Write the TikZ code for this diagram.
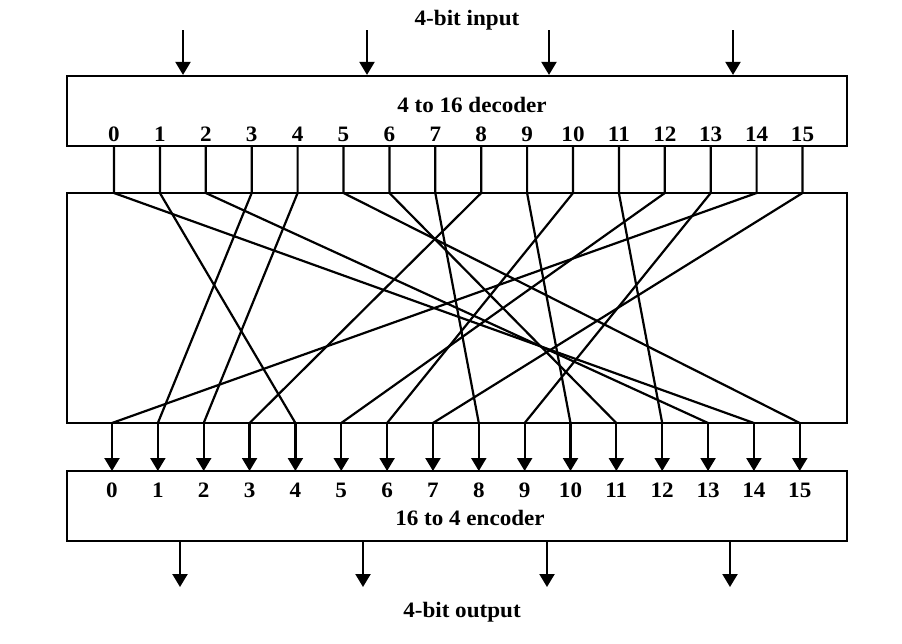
\documentclass[tikz,border=0pt]{standalone}
\usepackage{fontspec}
\setmainfont{Liberation Serif}[FakeStretch=1.05]
\usetikzlibrary{arrows.meta}
\begin{document}
\begin{tikzpicture}[x=1pt,y=-1pt,
  box/.style={draw, line width=2.2pt, inner sep=0pt},
  wire/.style={line width=2.2pt, line join=round},
  arr/.style={line width=2.2pt, -{Triangle[width=15pt,length=13pt]}},
  lbl/.style={font=\fontsize{22}{25}\selectfont\bfseries, inner sep=0pt, anchor=base},
  ]
\useasboundingbox (0,0) rectangle (902,643);
% boxes
\node[box, minimum width=780pt, minimum height=70pt] (dec) at (457,111) {};
\node[box, minimum width=780pt, minimum height=230pt] (mid) at (457,308) {};
\node[box, minimum width=780pt, minimum height=70pt] (enc) at (457,506) {};
% labels
\node[lbl] (inlbl) at (467,25) {4-bit input};
\node[lbl] (dectitle) at (472,112) {4 to 16 decoder};
\node[lbl] (enctitle) at (470,525) {16 to 4 encoder};
\node[lbl] (outlbl) at (462,617) {4-bit output};
% coordinates for wires
\foreach \i in {0,...,15}{
  \pgfmathsetmacro{\xt}{114+45.9*\i}
  \pgfmathsetmacro{\xb}{112+45.85*\i}
  \coordinate (d\i) at (\xt,146);
  \coordinate (t\i) at (\xt,193);
  \coordinate (b\i) at (\xb,423);
  \coordinate (e\i) at (\xb,471);
  \node[lbl] (dn\i) at (\xt,141.5) {\i};
  \node[lbl] (en\i) at (\xb,497) {\i};
}
% permutation wires
\foreach \i/\o in {0/14,1/4,2/13,3/1,4/2,5/15,6/11,7/8,8/3,9/10,10/6,11/12,12/5,13/9,14/0,15/7}{
  \draw[wire] (d\i) -- (t\i) -- (b\o);
}
% arrows into encoder
\foreach \i in {0,...,15}{
  \draw[arr] (b\i) -- (e\i);
}
% input and output arrows
\foreach \k/\xi/\xo in {1/183/180,2/367/363,3/549/547,4/733/730}{
  \coordinate (in\k) at (\xi,30);
  \coordinate (out\k) at (\xo,587);
  \draw[arr] (in\k) -- (in\k |- dec.north);
  \draw[arr] (out\k |- enc.south) -- (out\k);
}
\end{tikzpicture}
\end{document}
